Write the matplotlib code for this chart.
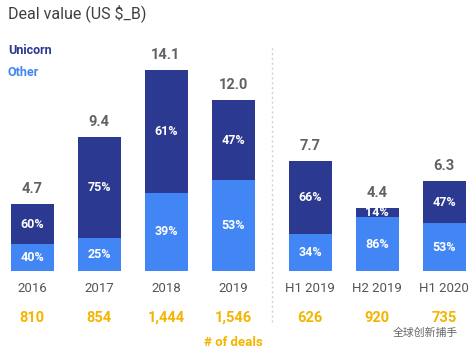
import matplotlib.pyplot as plt

periods = ['2016', '2017', '2018', '2019', 'H1 2019', 'H2 2019', 'H1 2020']
totals = [4.7, 9.4, 14.1, 12.0, 7.7, 4.4, 6.3]
other_pct = [40, 25, 39, 53, 34, 86, 53]
unicorn_pct = [60, 75, 61, 47, 66, 14, 47]
deals = ['810', '854', '1,444', '1,546', '626', '920', '735']

navy = '#2b3990'
blue = '#4285f4'
gold = '#f4b400'
grey = '#5f6368'

plt.rcParams['font.family'] = ['Roboto', 'DejaVu Sans']

xs = [0, 1, 2, 3, 4.15, 5.15, 6.15]
other_val = [t * p / 100 for t, p in zip(totals, other_pct)]
uni_val = [t * p / 100 for t, p in zip(totals, unicorn_pct)]

fig = plt.figure(figsize=(4.72, 3.54), dpi=100)
ax = fig.add_axes([0, 0, 1, 1])
ax.set_xlim(-32 / 67, (472 - 32) / 67)
ax.set_ylim(-83 / 14.25, 271 / 14.25)
ax.axis('off')

w = 43 / 67
ax.bar(xs, other_val, width=w, color=blue)
ax.bar(xs, uni_val, width=w, bottom=other_val, color=navy)

for x, t, o, u, op, up, d, p in zip(xs, totals, other_val, uni_val,
                                   other_pct, unicorn_pct, deals, periods):
    ax.text(x, o / 2, f'{op}%', color='white', ha='center', va='center',
            fontsize=9, fontweight='bold')
    ax.text(x, o + u / 2, f'{up}%', color='white', ha='center', va='center',
            fontsize=9, fontweight='bold')
    ax.text(x, t + 0.55, f'{t:.1f}', color=grey, ha='center', va='bottom',
            fontsize=10.5, fontweight='bold')
    ax.text(x, -17 / 14.25, p, color='#555555', ha='center', va='center',
            fontsize=9.5)
    ax.text(x, -47 / 14.25, d, color=gold, ha='center', va='center',
            fontsize=10.5, fontweight='bold')

ax.text(3, -72 / 14.25, '# of deals', color=gold, ha='center', va='center',
        fontsize=9.5, fontweight='bold')

# separator between full years and half years
ax.plot([3.58, 3.58], [-51 / 14.25, 224 / 14.25], color='#d0d0d0',
        linestyle=(0, (1.5, 2)), linewidth=1)

fig.text(8 / 472, 1 - 13 / 354, 'Deal value (US $_B)', fontsize=11.5,
         color='#3c4043', ha='left', va='center')
fig.text(8 / 472, 1 - 50 / 354, 'Unicorn', fontsize=9, color=navy,
         fontweight='bold', ha='left', va='center')
fig.text(8 / 472, 1 - 72 / 354, 'Other', fontsize=9, color=blue,
         fontweight='bold', ha='left', va='center')

fig.text(393 / 472, 1 - 333 / 354, '全球创新捕手', fontsize=7.8,
         color='#666666', ha='left', va='center',
         family=['Noto Sans CJK SC', 'DejaVu Sans'])

fig.savefig('out.png', dpi=100)
